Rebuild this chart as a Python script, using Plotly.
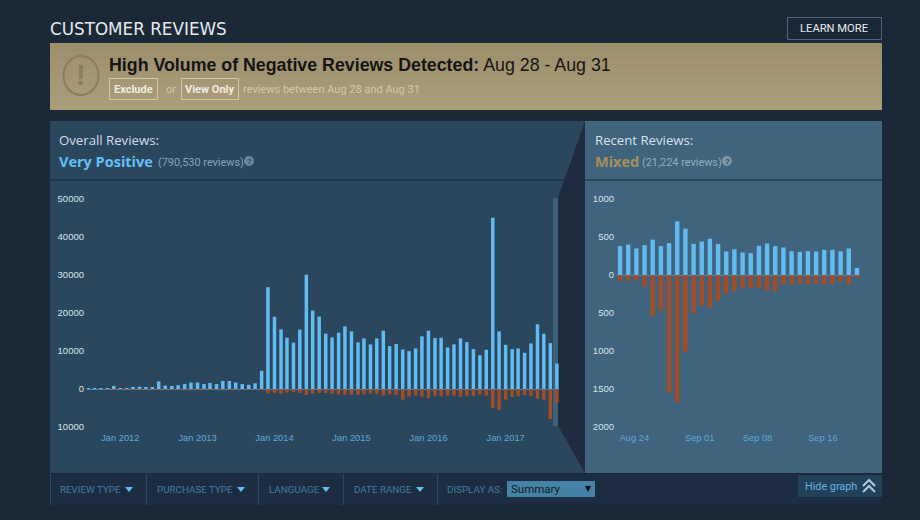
import pandas as pd
import plotly.graph_objects as go
from plotly.subplots import make_subplots

W, H = 920, 520

# ---------------- Data ----------------
overall_months = pd.date_range("2011-08-01", "2017-09-01", freq="MS").strftime("%Y-%m-%d").tolist()
overall_up = [
    50, 80, 100, 250, 800, 200, 200, 450, 600, 300, 400, 2000,
    900, 800, 1000, 1300, 1700, 1700, 1300, 1600, 1300, 2100, 2100, 1700,
    1300, 1100, 1500, 4800, 26800, 19000, 15700, 13500, 12200, 15600, 30070, 20640,
    19050, 14550, 13580, 14800, 16490, 15170, 12260, 13320, 11730, 13320, 15340, 11290,
    11820, 10400, 9960, 10670, 13850, 15340, 13400, 13490, 10930, 11730, 13320, 12350,
    10490, 8900, 10320, 45060, 15170, 11640, 10490, 10670, 9520, 11990, 17020, 14550,
    12080, 6700,
]
overall_down = [
    0, 0, 0, 10, 30, 10, 10, 20, 30, 20, 20, 100,
    50, 40, 50, 60, 80, 80, 60, 70, 60, 90, 90, 80,
    60, 60, 80, 200, 1150, 1060, 1300, 1000, 800, 1060, 1600, 1200,
    1060, 1060, 1300, 1400, 1500, 1500, 1500, 1400, 1200, 1400, 1760, 1400,
    1500, 2800, 2000, 1760, 2000, 2400, 1900, 1900, 1760, 1760, 2100, 1900,
    1900, 1500, 1760, 5000, 5550, 2800, 2100, 1900, 1600, 1900, 2550, 2800,
    7900, 3700,
]
overall_ticks = ["2012-01-01", "2013-01-01", "2014-01-01", "2015-01-01", "2016-01-01", "2017-01-01"]
overall_tick_labels = ["Jan 2012", "Jan 2013", "Jan 2014", "Jan 2015", "Jan 2016", "Jan 2017"]
overall_y_ticks = [50000, 40000, 30000, 20000, 10000, 0, -10000]
overall_y_labels = ["50000", "40000", "30000", "20000", "10000", "0", "10000"]

recent_days = pd.date_range("2017-08-22", "2017-09-20", freq="D").strftime("%Y-%m-%d").tolist()
recent_up = [
    380, 400, 350, 393, 465, 380, 420, 706, 610, 410,
    440, 477, 410, 310, 340, 296, 287, 384, 415, 380,
    362, 313, 305, 313, 309, 331, 331, 313, 349, 93,
]
recent_down = [
    75, 84, 66, 155, 543, 468, 1554, 1673, 1011, 503,
    406, 428, 340, 247, 212, 172, 172, 172, 203, 216,
    128, 124, 110, 124, 119, 128, 115, 88, 128, 31,
]
# labels sit a little left of their bars in the reference
recent_ticks = ["2017-08-23 18:00", "2017-08-31 18:00", "2017-09-07 20:00", "2017-09-15 20:00"]
recent_tick_labels = ["Aug 24", "Sep 01", "Sep 08", "Sep 16"]
recent_y_ticks = [1000, 500, 0, -500, -1000, -1500, -2000]
recent_y_labels = ["1000", "500", "0", "500", "1000", "1500", "2000"]

# ---------------- Colours ----------------
BG = "#1b2838"
UP = "#62bcf2"
DOWN = "#a34c25"
LEFT_PANEL = "#2a475e"
RIGHT_PANEL = "#40637e"
DARK = "#1f2b3e"
NARROW = "Roboto, Arial, sans-serif"
ARIAL = "Liberation Sans, Arial, sans-serif"
STEAM = "Open Sans, sans-serif"
DAY_MS = 86400000


def px(x):
    return x / W


def py(y):
    return 1 - y / H


shapes = []
annotations = []


def rect(x0, y0, x1, y1, fill="rgba(0,0,0,0)", line=None, width=1):
    shapes.append(dict(
        type="rect", xref="paper", yref="paper", layer="below",
        x0=px(x0), x1=px(x1), y0=py(y0), y1=py(y1), fillcolor=fill,
        line=dict(color=line or "rgba(0,0,0,0)", width=width if line else 0),
    ))


def poly(points, fill=None, line=None, width=1):
    path = "M " + " L ".join(f"{px(x):.5f},{py(y):.5f}" for x, y in points)
    if fill:
        path += " Z"
    shapes.append(dict(
        type="path", xref="paper", yref="paper", layer="below", path=path,
        fillcolor=fill or "rgba(0,0,0,0)",
        line=dict(color=line or "rgba(0,0,0,0)", width=width if line else 0),
    ))


def label(x, y, text, size, color, family=ARIAL, anchor="left"):
    annotations.append(dict(
        xref="paper", yref="paper", x=px(x), y=py(y), text=text, showarrow=False,
        xanchor=anchor, yanchor="middle", borderpad=0,
        font=dict(size=size, color=color, family=family),
    ))


# ---------------- Page pieces ----------------
# banner fades slightly from top to bottom (strips overlap so no seams show)
for i in range(8):
    shade = (158 + i * 2, 143 + i * 2, 108 + i * 2)
    rect(50, 43 + i * 8.4, 882, 110, fill=f"rgb{shade}")
rect(50, 474, 882, 505, fill="#1c2d41")
rect(50, 121, 586, 473, fill=LEFT_PANEL)
rect(585, 121, 882, 473, fill=RIGHT_PANEL)
poly([(585, 121), (558, 198), (558, 426), (585, 473)], fill=DARK)
rect(553, 198, 558, 426, fill="#3d607b")
rect(50, 179.5, 565, 180.5, fill="#1a2738")
rect(585, 179.5, 882, 180.5, fill="#1a2738")

# header
label(49, 29, "CUSTOMER REVIEWS", 16.8, "#e6eaee", family="DejaVu Sans")
rect(787.5, 17.5, 881.5, 39.5, line="#54657a")
label(834, 28, "LEARN MORE", 11.2, "#e8ebee", family=NARROW, anchor="center")

# banner
shapes.append(dict(
    type="circle", xref="paper", yref="paper", layer="below",
    x0=px(63.5), x1=px(98.5), y0=py(95), y1=py(56),
    line=dict(color="#8c7d5b", width=2), fillcolor="rgba(0,0,0,0)",
))
label(81, 75, "<b>!</b>", 29, "#8c7d5b", anchor="center")
label(108, 65, "<b>High Volume of Negative Reviews Detected:</b> Aug 28 - Aug 31", 17.8, "#141414")
rect(109.5, 78.5, 157.5, 99.5, line="#cfc6ad")
label(133.5, 89, "<b>Exclude</b>", 11, "#f1ede2", family=NARROW, anchor="center")
label(165, 89, "or", 11, "#d2c8ad", family=NARROW)
rect(181.5, 78.5, 238.5, 99.5, line="#cfc6ad")
label(210, 89, "<b>View Only</b>", 11, "#f1ede2", family=NARROW, anchor="center")
label(242, 89, "reviews between Aug 28 and Aug 31", 11, "#d2c8ad", family=NARROW)

# panel titles
label(57.5, 140, "Overall Reviews:", 13.2, "#d3dee7", family=STEAM)
label(57.5, 161, "<b>Very Positive</b>", 14.5, "#66c0f4", family=STEAM)
label(156.5, 162, "(790,530 reviews)", 10.9, "#8ba3b4", family=NARROW)
label(593.5, 140, "Recent Reviews:", 13.2, "#d8e2ea", family=STEAM)
label(593.5, 161, "<b>Mixed</b>", 14.5, "#a98f5c", family=STEAM)
label(641, 162, "(21,224 reviews)", 10.9, "#96adbd", family=NARROW)
for cx, fill in [(249, "#6f8799"), (727, "#7d97a9")]:
    shapes.append(dict(
        type="circle", xref="paper", yref="paper", layer="below",
        x0=px(cx - 5), x1=px(cx + 5), y0=py(166), y1=py(156),
        fillcolor=fill, line=dict(width=0),
    ))
    label(cx, 161, "<b>?</b>", 8, "#2a475e", anchor="center")

# filter bar
for x in [50, 146, 258, 343, 437]:
    rect(x, 474, x + 1, 505, fill="#2a4a60")
filter_labels = [("REVIEW TYPE", 59, 129), ("PURCHASE TYPE", 156, 241), ("LANGUAGE", 268, 326), ("DATE RANGE", 353, 420)]
for name, x, arrow_x in filter_labels:
    label(x, 489.5, name, 9.8, "#3f7da3", family=NARROW)
    poly([(arrow_x - 4, 487), (arrow_x + 4, 487), (arrow_x, 492)], fill="#66c0f4")
label(446, 489.5, "DISPLAY AS:", 9.8, "#3f7da3", family=NARROW)
rect(507, 481, 595, 497, fill="#4582a5")
label(510, 489, "Summary", 11.5, "#101a22", family=NARROW)
poly([(585, 486), (591, 486), (588, 492)], fill="#0a1016")
rect(798, 475, 882, 497, fill="#24415a")
label(804, 486, "Hide graph", 10.8, "#66b3e0", family=NARROW)
poly([(863, 486), (869, 480), (875, 486)], line="#a9cfe6", width=2)
poly([(863, 492), (869, 486), (875, 492)], line="#a9cfe6", width=2)

# ---------------- Charts ----------------
fig = make_subplots(rows=1, cols=2)

fig.add_trace(go.Bar(x=overall_months, y=overall_up, marker=dict(color=UP, line=dict(width=0)), width=16.5 * DAY_MS), row=1, col=1)
fig.add_trace(go.Bar(x=overall_months, y=[-v for v in overall_down], marker=dict(color=DOWN, line=dict(width=0)), width=16.5 * DAY_MS), row=1, col=1)
fig.add_trace(go.Bar(x=recent_days, y=recent_up, marker=dict(color=UP, line=dict(width=0)), width=0.54 * DAY_MS), row=1, col=2)
fig.add_trace(go.Bar(x=recent_days, y=[-v for v in recent_down], marker=dict(color=DOWN, line=dict(width=0)), width=0.54 * DAY_MS), row=1, col=2)

y_common = dict(
    showgrid=False, zeroline=True, zerolinecolor="#4d86aa", zerolinewidth=1, automargin=False,
    ticks="", tickfont=dict(size=9.5, color="#dbe4eb", family=ARIAL), showline=False, ticklabelstandoff=2,
)
x_common = dict(
    type="date", showgrid=False, zeroline=False, showline=False, ticks="", automargin=False,
    tickangle=0, ticklabelstandoff=4, tickfont=dict(size=9.3, color="#5ea9d6", family=ARIAL),
)

fig.update_layout(
    width=W, height=H, autosize=False,
    paper_bgcolor=BG, plot_bgcolor="rgba(0,0,0,0)",
    margin=dict(l=0, r=0, t=0, b=0),
    barmode="relative", showlegend=False,
    shapes=shapes, annotations=annotations,
    xaxis=dict(
        x_common, domain=[px(87), px(559)], range=["2011-07-27", "2017-09-11"],
        tickmode="array", tickvals=overall_ticks, ticktext=overall_tick_labels,
    ),
    yaxis=dict(
        y_common, domain=[py(427), py(199)], range=[-10000, 50000],
        tickmode="array", tickvals=overall_y_ticks, ticktext=overall_y_labels,
    ),
    xaxis2=dict(
        x_common, domain=[px(617), px(860)], range=["2017-08-21 15:00", "2017-09-20 09:00"],
        tickmode="array", tickvals=recent_ticks, ticktext=recent_tick_labels,
    ),
    yaxis2=dict(
        y_common, domain=[py(427), py(199)], range=[-2000, 1000],
        tickmode="array", tickvals=recent_y_ticks, ticktext=recent_y_labels,
    ),
)

fig.write_html(
    "out.html",
    config=dict(displayModeBar=False),
    post_script="document.body.style.margin='0';document.body.style.background='#1b2838';",
)
